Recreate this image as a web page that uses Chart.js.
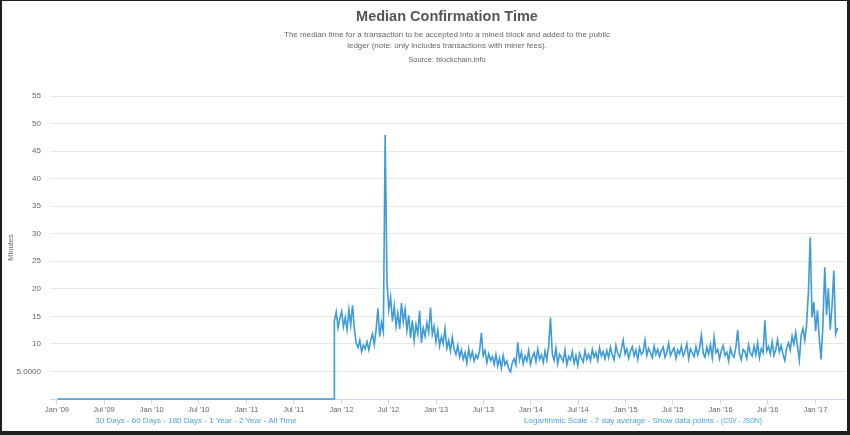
<!DOCTYPE html>
<html>
<head>
<meta charset="utf-8">
<title>Median Confirmation Time</title>
<script src="https://cdn.jsdelivr.net/npm/chart.js@4.4.1/dist/chart.umd.min.js"></script>
<style>
  body { margin: 0; background: #fff; font-family: "Liberation Sans", Arial, Helvetica, sans-serif; }
  #page { position: relative; width: 850px; height: 435px; overflow: hidden; }
  #wrap { position: absolute; left: 0; top: 0; width: 850px; height: 419px; }
  .txt { position: absolute; white-space: nowrap; transform: translateX(-50%); text-align: center; }
  #title { left: 447px; top: 8px; font-size: 14.5px; line-height: 16px; font-weight: bold; color: #555; }
  #sub { left: 447px; top: 29px; font-size: 8px; line-height: 11px; color: #666; }
  #source { left: 447px; top: 55px; font-size: 7.5px; line-height: 10px; color: #666; }
  .links { top: 415px; font-size: 8px; line-height: 12px; color: #4ba6e0; }
  .links small { font-size: 6.5px; }
  #frame { position: absolute; left: 0; top: 0; width: 850px; height: 435px; box-sizing: border-box;
           border-style: solid; border-color: #1e1e1e; border-width: 1px 3px 4px 2px; pointer-events: none; }
</style>
</head>
<body>
<div id="page">
  <div id="wrap"><canvas id="confirmChart"></canvas></div>
  <div class="txt" id="title">Median Confirmation Time</div>
  <div class="txt" id="sub">The median time for a transaction to be accepted into a mined block and added to the public<br>ledger (note: only includes transactions with miner fees).</div>
  <div class="txt" id="source">Source: blockchain.info</div>
  <div class="txt links" style="left:196px">30 Days - 60 Days - 180 Days - 1 Year - 2 Year - All Time</div>
  <div class="txt links" style="left:643px">Logarithmic Scale - 7 day average - Show data points - <small>(CSV - JSON)</small></div>
  <div id="frame"></div>
</div>
<script>
// no fee-paying data before Dec 2011: flat at zero
const zeroStart = '2009-01-03';
const zeroEnd = '2011-12-04';

// one value per week, starting on weeklyStart (minutes)
const weeklyStart = '2011-12-05';
const weeklyMinutes = [
    14.2, 15.8, 12.9, 14.6, 15.9, 13.1, 14.8, 12.6, 16.2, 13.4,
    17.0, 12.8, 10.1, 9.3, 10.7, 8.6, 9.8, 9.1, 10.4, 8.9,
    10.6, 11.8, 9.9, 12.6, 16.4, 11.3, 13.9, 12.2, 47.9, 21.3,
    16.2, 18.5, 14.1, 16.9, 13.2, 15.6, 12.7, 17.4, 14.0, 16.3,
    12.4, 15.2, 11.1, 14.3, 10.6, 13.5, 11.8, 16.0, 10.2, 12.9,
    11.4, 13.8, 12.1, 16.6, 11.7, 13.2, 10.4, 12.5, 9.6, 11.3,
    10.1, 12.8, 9.2, 10.6, 8.7, 11.2, 9.0, 8.1, 9.7, 7.6,
    8.9, 7.2, 8.4, 6.5, 9.1, 7.3, 8.6, 6.9, 8.0, 7.4,
    8.7, 12.0, 7.9, 8.8, 6.6, 8.2, 7.0, 7.7, 6.3, 8.1,
    6.0, 7.4, 5.6, 7.9, 6.2, 6.9, 5.5, 4.9, 6.6, 7.3,
    6.2, 10.3, 7.1, 8.5, 6.4, 7.8, 6.9, 8.8, 6.3, 7.6,
    8.4, 6.8, 9.1, 7.2, 8.0, 6.6, 8.7, 7.1, 9.6, 14.8,
    8.2, 7.0, 9.2, 6.4, 8.1, 7.5, 6.8, 8.9, 6.2, 7.7,
    7.1, 8.6, 6.5, 7.9, 6.1, 8.3, 7.4, 6.7, 8.8, 7.2,
    8.1, 6.9, 9.0, 7.6, 8.4, 7.0, 9.3, 7.8, 8.6, 7.3,
    8.8, 7.5, 9.4, 8.0, 7.1, 9.7, 8.3, 7.6, 9.0, 10.7,
    8.2, 9.1, 7.4, 8.7, 9.5, 7.8, 8.9, 7.2, 9.3, 8.1,
    8.6, 10.7, 7.9, 9.2, 8.4, 7.5, 9.6, 8.1, 9.0, 7.7,
    8.8, 9.4, 7.6, 8.5, 10.1, 7.9, 8.7, 9.3, 7.4, 8.9,
    8.2, 9.6, 7.8, 8.6, 10.0, 7.3, 9.1, 8.4, 7.7, 9.5,
    8.0, 9.2, 11.6, 8.3, 7.6, 9.4, 8.1, 9.9, 7.5, 11.2,
    8.4, 9.0, 7.3, 8.8, 9.7, 7.9, 8.5, 6.9, 9.2, 8.1,
    7.6, 9.4, 12.5, 8.2, 7.1, 9.0, 8.6, 7.4, 9.8, 8.3,
    7.8, 9.6, 8.0, 10.2, 7.5, 9.1, 8.4, 14.3, 8.7, 9.5,
    8.2, 10.4, 7.9, 9.0, 10.8, 8.5, 9.7, 8.1, 7.0, 9.3,
    10.2, 8.9, 11.4, 10.0, 12.1, 9.5, 7.0, 11.6, 12.8, 10.7,
    13.5, 19.4, 29.3, 14.8, 17.6, 12.3, 16.1, 11.0, 7.2, 13.4,
    23.9, 15.2, 20.1, 12.6, 16.8, 23.3, 11.8, 12.9
];

const xTickDates = ['2009-01-01', '2009-07-01', '2010-01-01', '2010-07-01', '2011-01-01', '2011-07-01',
    '2012-01-01', '2012-07-01', '2013-01-01', '2013-07-01', '2014-01-01', '2014-07-01',
    '2015-01-01', '2015-07-01', '2016-01-01', '2016-07-01', '2017-01-01'];
const xTickLabels = ["Jan '09", "Jul '09", "Jan '10", "Jul '10", "Jan '11", "Jul '11",
    "Jan '12", "Jul '12", "Jan '13", "Jul '13", "Jan '14", "Jul '14",
    "Jan '15", "Jul '15", "Jan '16", "Jul '16", "Jan '17"];

const DAY = 86400000;

function toYear(ms) {
    const d = new Date(ms);
    const y = d.getUTCFullYear();
    const start = Date.UTC(y, 0, 1);
    const end = Date.UTC(y + 1, 0, 1);
    return y + (ms - start) / (end - start);
}

function parseDay(s) {
    const p = s.split('-').map(Number);
    return Date.UTC(p[0], p[1] - 1, p[2]);
}

function buildPoints() {
    const points = [
        { x: toYear(parseDay(zeroStart)), y: 0 },
        { x: toYear(parseDay(zeroEnd)), y: 0 }
    ];
    const t0 = parseDay(weeklyStart);
    weeklyMinutes.forEach((v, i) => {
        points.push({ x: toYear(t0 + i * 7 * DAY), y: v });
    });
    return points;
}

function renderChart() {
    const ctx = document.getElementById('confirmChart').getContext('2d');
    new Chart(ctx, {
        type: 'line',
        data: {
            datasets: [{
                label: 'Median Confirmation Time',
                data: buildPoints(),
                borderColor: '#3d9bd8',
                borderWidth: 1.6,
                pointRadius: 0,
                tension: 0,
                fill: false,
                clip: 4
            }]
        },
        options: {
            responsive: true,
            maintainAspectRatio: false,
            animation: false,
            layout: { padding: { left: 0, right: 5, top: 96, bottom: 0 } },
            plugins: {
                legend: { display: false },
                tooltip: { enabled: false }
            },
            scales: {
                x: {
                    type: 'linear',
                    min: toYear(parseDay('2008-12-05')),
                    max: toYear(parseDay('2017-04-25')),
                    afterBuildTicks: scale => {
                        scale.ticks = xTickDates.map(d => ({ value: toYear(parseDay(d)) }));
                    },
                    afterFit: scale => { scale.height = 20; },
                    grid: { drawOnChartArea: false, color: '#ccd6eb', tickLength: 5 },
                    border: { color: '#ccd6eb' },
                    ticks: {
                        autoSkip: false,
                        maxRotation: 0,
                        padding: 1,
                        color: '#666',
                        font: { family: '"Liberation Sans", Arial, sans-serif', size: 7.5 },
                        callback: (value, index) => xTickLabels[index]
                    }
                },
                y: {
                    min: 0,
                    max: 55,
                    afterFit: scale => { scale.width = 50; },
                    grid: { color: '#e8e8e8', drawTicks: false },
                    border: { display: false },
                    title: {
                        display: true,
                        text: 'Minutes',
                        color: '#666',
                        padding: { top: 6, bottom: 0 },
                        font: { family: '"Liberation Sans", Arial, sans-serif', size: 7.5 }
                    },
                    ticks: {
                        stepSize: 5,
                        padding: 9,
                        color: '#666',
                        font: { family: '"Liberation Sans", Arial, sans-serif', size: 8 },
                        callback: value => value === 0 ? '' : (value === 5 ? '5.0000' : value)
                    }
                }
            }
        }
    });
}

document.addEventListener('DOMContentLoaded', renderChart);
</script>
</body>
</html>
